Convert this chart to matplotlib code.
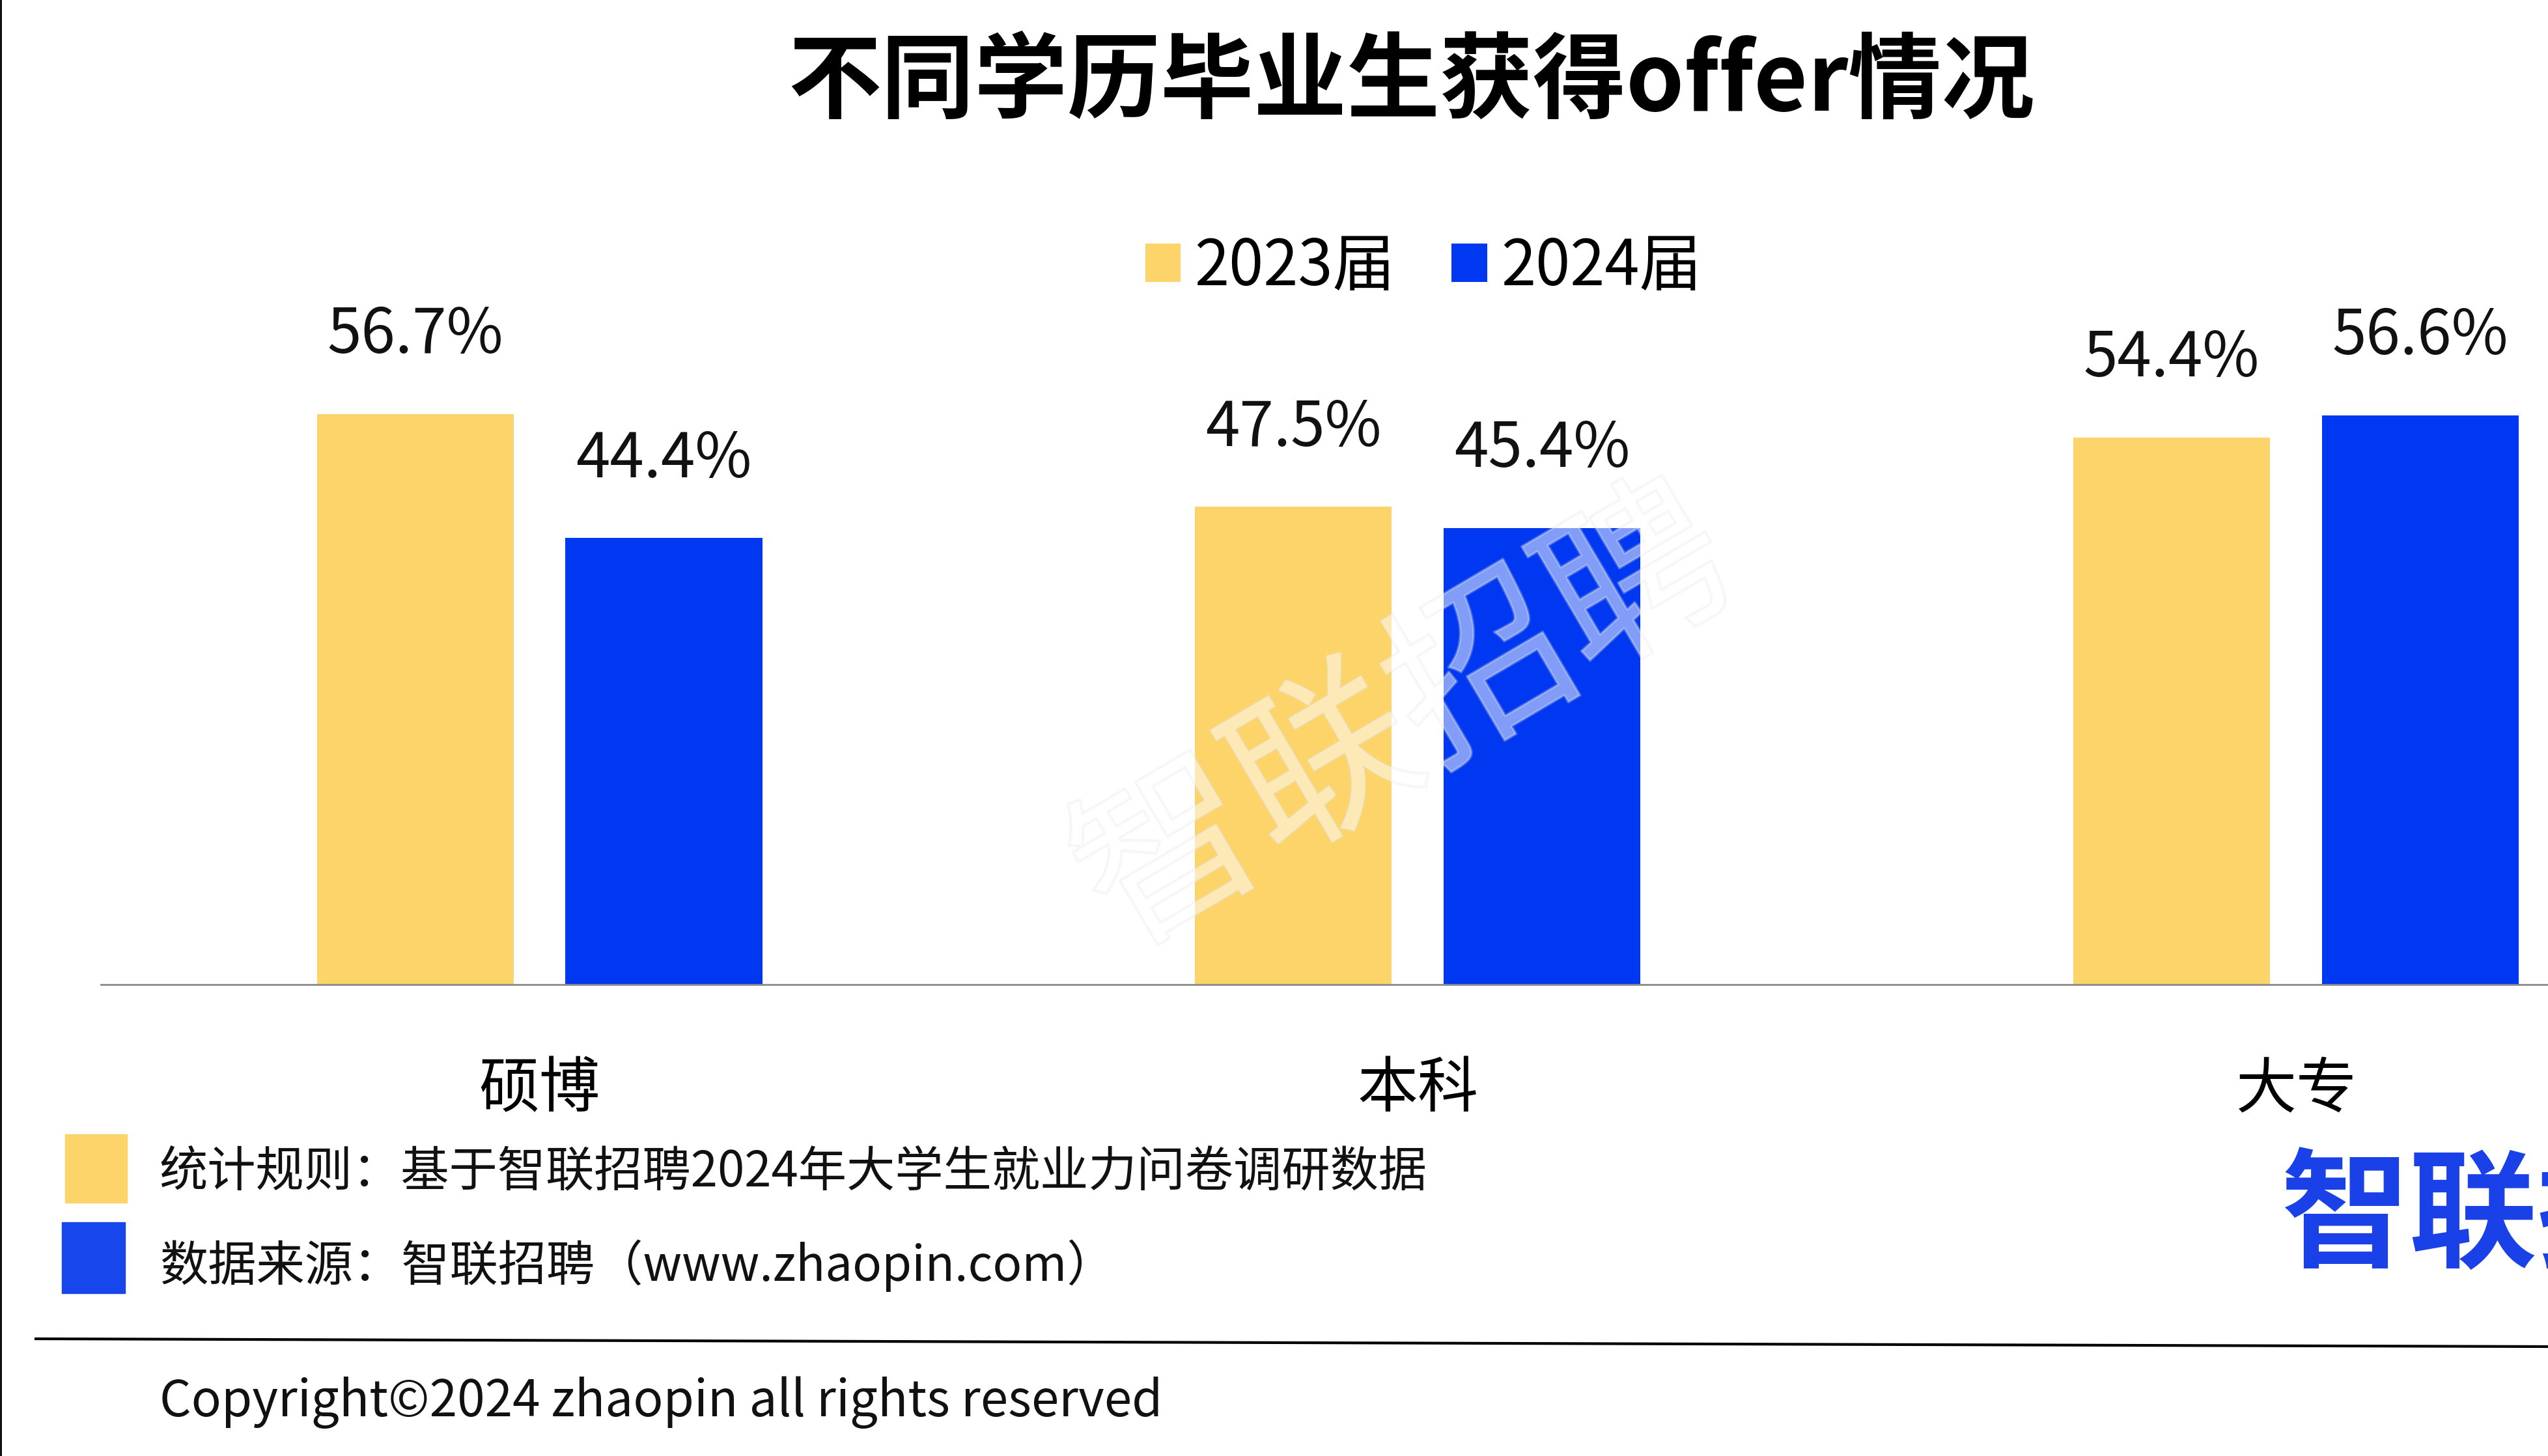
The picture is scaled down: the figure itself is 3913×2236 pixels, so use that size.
import matplotlib.pyplot as plt
import matplotlib.patheffects as pe
from matplotlib.patches import Rectangle
from matplotlib.lines import Line2D
import numpy as np

plt.rcParams['font.family'] = ['Noto Sans CJK SC', 'DejaVu Sans']

# data
categories = ['硕博', '本科', '大专']
series_names = ['2023届', '2024届']
values_2023 = [56.7, 47.5, 54.4]
values_2024 = [44.4, 45.4, 56.6]
colors = ['#FDD46A', '#0038F2']

W, H = 3913, 2236
fig = plt.figure(figsize=(W / 100, H / 100), dpi=100)

# main axes, placed in pixel terms
left_px, base_px, top_px = 155, 1512, 585
ax = fig.add_axes([left_px / W, 1 - base_px / H, 1 - left_px / W, (base_px - top_px) / H])

x = np.arange(len(categories))
bw = 0.224
off = 0.1416
b1 = ax.bar(x - off, values_2023, bw, color=colors[0], label=series_names[0], zorder=2)
b2 = ax.bar(x + off, values_2024, bw, color=colors[1], label=series_names[1], zorder=2)

ax.set_ylim(0, 60)
ax.set_xlim(-0.4994, 2.287)
for s in ['top', 'right', 'left']:
    ax.spines[s].set_visible(False)
ax.spines['bottom'].set_color('#8a8a8a')
ax.spines['bottom'].set_linewidth(2)
ax.set_yticks([])
ax.set_xticks(x)
ax.set_xticklabels(categories, fontsize=67)
ax.tick_params(axis='x', length=0, pad=82)

for bars, vals in [(b1, values_2023), (b2, values_2024)]:
    for rect, v in zip(bars, vals):
        ax.text(rect.get_x() + rect.get_width() / 2, v + 7.8, f'{v:.1f}%',
                ha='center', va='center', fontsize=68, color='#111111', clip_on=False)

# title
fig.text(2168 / W, 1 - 128 / H, '不同学历毕业生获得offer情况', ha='center', va='center',
         fontsize=103, fontweight='bold', color='black')

# legend
fig.legend(handles=[b1, b2], labels=series_names, loc='center', ncol=2,
           bbox_to_anchor=(2186 / W, 1 - 410 / H), frameon=False, fontsize=69,
           handlelength=0.57, handleheight=0.57, handletextpad=0.22, columnspacing=0.9)

# watermark
fig.text(2159 / W, 1 - 1110 / H, '智联招聘', ha='center', va='center', rotation=30.5,
         fontsize=200, color='white', alpha=0.3, zorder=5,
         path_effects=[pe.withStroke(linewidth=3, foreground='#e2e2e2')])

# footer markers
fig.patches.append(Rectangle((100 / W, 1 - 1847 / H), 95 / W, 105 / H, transform=fig.transFigure,
                             color=colors[0], figure=fig))
fig.patches.append(Rectangle((95 / W, 1 - 1986 / H), 97 / W, 109 / H, transform=fig.transFigure,
                             color='#1747EC', figure=fig))
fig.text(245 / W, 1 - 1800 / H, '统计规则：基于智联招聘2024年大学生就业力问卷调研数据',
         ha='left', va='center', fontsize=53.5, color='#111111')
fig.text(245 / W, 1 - 1944 / H, '数据来源：智联招聘（www.zhaopin.com）',
         ha='left', va='center', fontsize=53.5, color='#111111')

# separator line and copyright
fig.lines.append(Line2D([55 / W, 1], [1 - 2056 / H, 1 - 2068 / H], transform=fig.transFigure,
                        color='black', linewidth=3))
fig.text(245 / W, 1 - 2154 / H, 'Copyright©2024 zhaopin all rights reserved',
         ha='left', va='center', fontsize=55, color='#111111')

# logo
fig.text(3502 / W, 1 - 1872 / H, '智联招聘', ha='left', va='center', fontsize=142,
         fontweight='bold', color='#1A40E8')

# left border
fig.lines.append(Line2D([1 / W, 1 / W], [0, 1], transform=fig.transFigure, color='black', linewidth=2))

fig.savefig('out.png', dpi=100, facecolor='white')
